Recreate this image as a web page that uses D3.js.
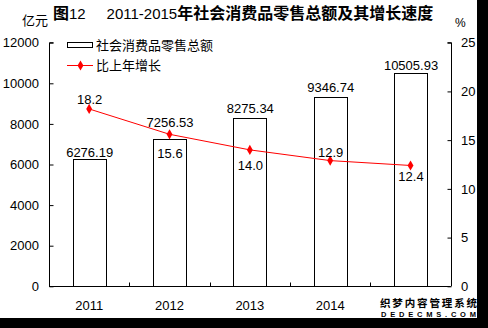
<!DOCTYPE html>
<html><head><meta charset="utf-8">
<script src="https://cdn.jsdelivr.net/npm/d3@7"></script>
<style>
html,body{margin:0;padding:0;background:#000;}
svg{display:block;}
text{font-family:"Liberation Sans",Arial,"Noto Sans CJK SC",sans-serif;fill:#000;}
.cjk{font-family:"Noto Sans CJK SC","Liberation Sans",sans-serif;}
</style>
</head><body>
<svg id="c" width="488" height="328"></svg>
<script>
const years = ["2011","2012","2013","2014","2015"];
const retailSales = [6276.19, 7256.53, 8275.34, 9346.74, 10505.93];
const growthRate = [18.2, 15.6, 14.0, 12.9, 12.4];
const leftTicks = [0, 2000, 4000, 6000, 8000, 10000, 12000];
const rightTicks = [0, 5, 10, 15, 20, 25];
const salesLabels = ["6276.19","7256.53","8275.34","9346.74","10505.93"];
const growthLabels = ["18.2","15.6","14.0","12.9","12.4"];
// the last year's axis label is hidden under the watermark in the reference
const visibleYearLabels = ["2011","2012","2013","2014"];

// layout (not data)
const salesLabelDy = [-2, -12, -5, -5, -3];
const growthLabelDy = [-5, 24, 20, -4, 16];

const svg = d3.select("#c");
svg.append("rect").attr("x",0).attr("y",0).attr("width",477).attr("height",318).attr("fill","#fff");

const L = 49, R = 450.7, T = 42.7, B = 286.3;
const x = d3.scaleBand().domain(years).range([L, R]).padding(0);
const yL = d3.scaleLinear().domain([0, 12000]).range([B, T]);
const yR = d3.scaleLinear().domain([0, 25]).range([B, T]);
const barW = x.bandwidth() * 0.41;

// bars
svg.append("g").selectAll("rect").data(retailSales).join("rect")
  .attr("x", (d,i) => Math.round(x(years[i]) + x.bandwidth()/2 - barW/2) + 0.5)
  .attr("y", d => Math.round(yL(d)) + 0.5)
  .attr("width", Math.round(barW))
  .attr("height", d => Math.round(B) - Math.round(yL(d)))
  .attr("fill", "#fff").attr("stroke", "#000").attr("stroke-width", 1);

// left axis
const axL = svg.append("g").attr("transform", `translate(${Math.round(L)+0.5},0)`)
  .call(d3.axisRight(yL).tickValues(leftTicks).tickSize(4).tickFormat(""));
axL.select(".domain").attr("d", `M4,${T}H0V${B}`);
axL.selectAll("line").attr("stroke","#000");
axL.selectAll(".domain").attr("stroke","#000");
svg.append("g").selectAll("text").data(leftTicks).join("text")
  .attr("x", 39).attr("y", d => yL(d)).attr("dy", "0.36em")
  .attr("text-anchor", "end").attr("font-size", 13).text(d => d);

// right axis
const axR = svg.append("g").attr("transform", `translate(${Math.round(R)+0.5},0)`)
  .call(d3.axisLeft(yR).tickValues(rightTicks).tickSize(4).tickFormat(""));
axR.select(".domain").attr("d", `M-4,${T}H0V${B}`);
axR.selectAll("line").attr("stroke","#000");
axR.selectAll(".domain").attr("stroke","#000");
svg.append("g").selectAll("text").data(rightTicks).join("text")
  .attr("x", 461).attr("y", d => yR(d)).attr("dy", "0.36em")
  .attr("text-anchor", "start").attr("font-size", 13).text(d => d);

// x axis
const axB = svg.append("g").attr("transform", `translate(0,${Math.round(B)+0.5})`);
axB.append("line").attr("x1", L).attr("x2", R).attr("stroke", "#000");
axB.selectAll("line.t").data(years.slice(1)).join("line").attr("class","t")
  .attr("x1", d => Math.round(x(d))+0.5).attr("x2", d => Math.round(x(d))+0.5)
  .attr("y1", 0).attr("y2", -4).attr("stroke", "#000");
svg.append("g").selectAll("text").data(visibleYearLabels).join("text")
  .attr("x", d => x(d) + x.bandwidth()/2).attr("y", 310)
  .attr("text-anchor", "middle").attr("font-size", 13).text(d => d);

// line
const cx = i => x(years[i]) + x.bandwidth()/2;
const line = d3.line().x((d,i) => cx(i)).y(d => yR(d));
svg.append("path").datum(growthRate).attr("d", line)
  .attr("fill", "none").attr("stroke", "#f00").attr("stroke-width", 1);
const diamond = d3.symbol().type(d3.symbolDiamond).size(30);
svg.append("g").selectAll("path").data(growthRate).join("path")
  .attr("d", diamond).attr("transform", (d,i) => `translate(${cx(i)},${yR(d)})`)
  .attr("fill", "#f00");

// value labels
svg.append("g").selectAll("text").data(retailSales).join("text")
  .attr("x", (d,i) => cx(i) + 0.5).attr("y", (d,i) => yL(d) + salesLabelDy[i])
  .attr("text-anchor", "middle").attr("font-size", 13).text((d,i) => salesLabels[i]);
svg.append("g").selectAll("text").data(growthRate).join("text")
  .attr("x", (d,i) => cx(i) + 0.5).attr("y", (d,i) => yR(d) + growthLabelDy[i])
  .attr("text-anchor", "middle").attr("font-size", 13).text((d,i) => growthLabels[i]);

// legend
svg.append("rect").attr("x", 67.5).attr("y", 42.5).attr("width", 25).attr("height", 5)
  .attr("fill", "#fff").attr("stroke", "#000");
svg.append("text").attr("class","cjk").attr("x", 96).attr("y", 50).attr("font-size", 13).text("社会消费品零售总额");
svg.append("line").attr("x1", 67).attr("x2", 93).attr("y1", 65.5).attr("y2", 65.5).attr("stroke", "#f00");
svg.append("path").attr("d", diamond).attr("transform", "translate(80.5,65.5)").attr("fill", "#f00");
svg.append("text").attr("class","cjk").attr("x", 96).attr("y", 70).attr("font-size", 13).text("比上年增长");

// title
const title = svg.append("text").attr("x", 53).attr("y", 19).attr("font-weight", "bold");
title.append("tspan").attr("class","cjk").attr("font-size", 16).text("图");
title.append("tspan").attr("font-size", 15).attr("font-weight", "normal").text("12\u00a0\u00a0\u00a0\u00a0\u00a02011-2015");
title.append("tspan").attr("class","cjk").attr("font-size", 16).text("年社会消费品零售总额及其增长速度");

svg.append("text").attr("class","cjk").attr("x", 22).attr("y", 25).attr("font-size", 13).text("亿元");
svg.append("text").attr("x", 455).attr("y", 27).attr("font-size", 12).text("%");

// watermark
svg.append("text").attr("class","cjk").attr("x", 380).attr("y", 307).attr("font-size", 10.5)
  .attr("font-weight","bold").attr("textLength", 97).text("织梦内容管理系统");
svg.append("text").attr("x", 381).attr("y", 317).attr("font-size", 7.5)
  .attr("font-weight","bold").attr("textLength", 95).text("DEDECMS.COM");
</script>
</body></html>
